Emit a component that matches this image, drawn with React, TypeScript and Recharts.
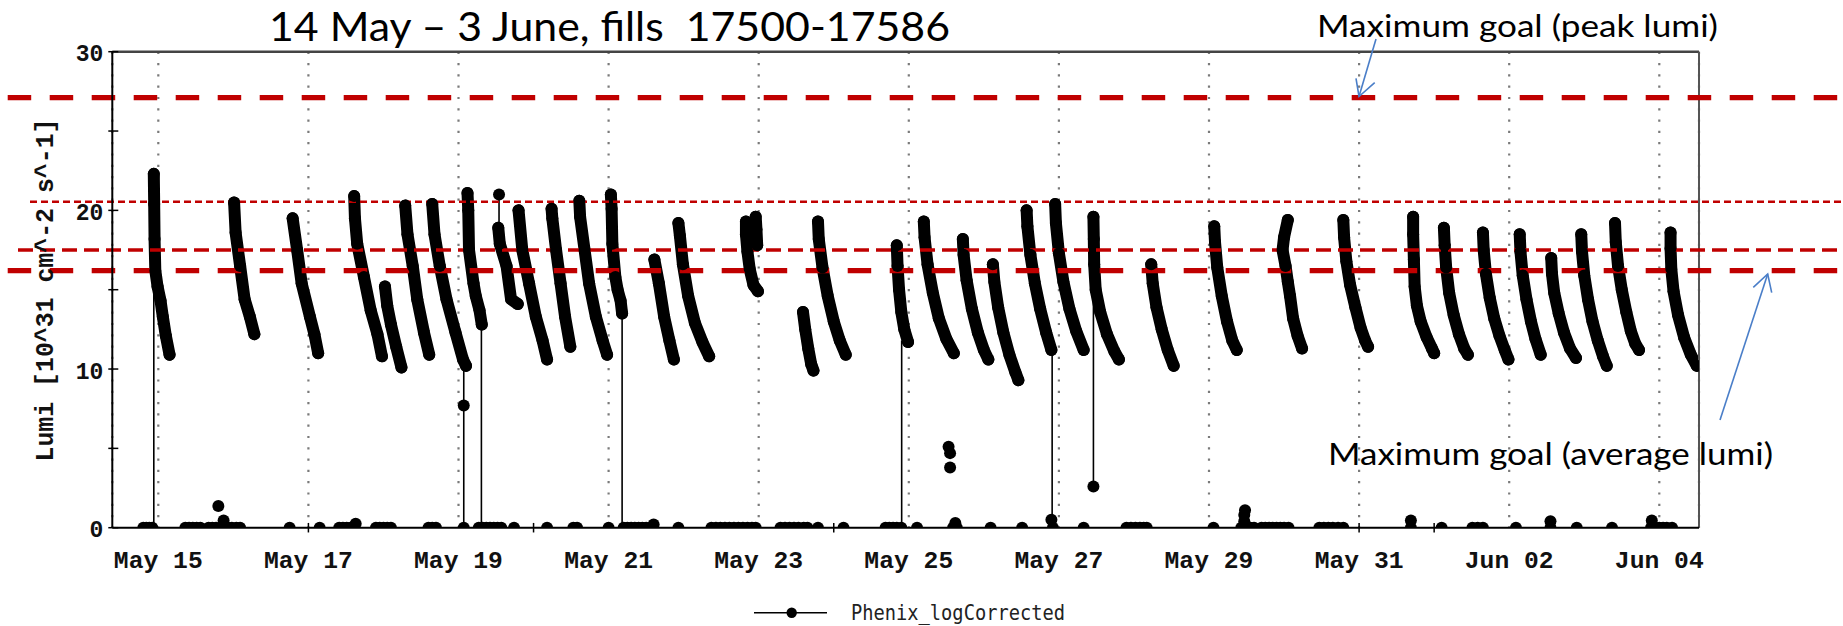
import { CartesianGrid, Line, LineChart, ReferenceLine, XAxis, YAxis } from "recharts";

type Pt = [number, number];

// x = day of May (Jun 04 = 35), y = lumi [10^31 cm^-2 s^-1]
const fillsMay14to18: Pt[][] = [
    [[14.94, 22.3], [14.945, 20.4], [14.95, 18.2], [14.96, 16.2], [14.99, 15.2], [15.03, 14.3], [15.06, 13.3], [15.1, 12.1], [15.15, 10.9]],
    [[16.01, 20.5], [16.03, 18.6], [16.09, 16.5], [16.15, 14.4], [16.22, 13.3], [16.28, 12.2]],
    [[16.79, 19.5], [16.85, 17.5], [16.91, 15.4], [17.02, 13.3], [17.08, 12.2], [17.13, 11.0]],
    [[17.61, 20.9], [17.62, 19.5], [17.65, 17.9], [17.74, 15.8], [17.83, 13.7], [17.92, 12.2], [17.98, 10.8]],
    [[18.02, 15.2], [18.05, 14.0], [18.1, 12.8], [18.17, 11.4], [18.24, 10.1]],
];

const fillsMay18to21: Pt[][] = [
    [[18.29, 20.3], [18.32, 18.5], [18.39, 16.5], [18.45, 14.4], [18.54, 12.3], [18.61, 10.9]],
    [[18.65, 20.4], [18.68, 18.5], [18.75, 16.5], [18.84, 14.4], [18.96, 12.3], [19.06, 10.6], [19.1, 10.2]],
    [[19.12, 21.1], [19.13, 20.0], [19.14, 17.5], [19.2, 15.4], [19.23, 14.6], [19.28, 13.7], [19.31, 12.8]],
    [[19.53, 18.9], [19.55, 17.9], [19.64, 16.5], [19.7, 14.4], [19.79, 14.1]],
    [[19.8, 20.0], [19.85, 17.5], [19.94, 15.4], [20.03, 13.3], [20.12, 11.8], [20.18, 10.6]],
    [[20.24, 20.1], [20.25, 19.5], [20.3, 17.5], [20.36, 15.4], [20.42, 13.3], [20.49, 11.4]],
    [[20.61, 20.6], [20.62, 19.6], [20.68, 17.5], [20.74, 15.4], [20.83, 13.3], [20.92, 11.8], [20.98, 10.9]],
    [[21.03, 21.0], [21.04, 20.1], [21.05, 17.9], [21.09, 15.8], [21.12, 15.0], [21.16, 14.3], [21.18, 13.5]],
];

const fillsMay21to25: Pt[][] = [
    [[21.61, 16.9], [21.67, 15.4], [21.74, 13.3], [21.81, 11.8], [21.87, 10.6]],
    [[21.93, 19.2], [21.95, 18.4], [21.99, 16.6], [22.06, 14.6], [22.15, 12.9], [22.25, 11.7], [22.34, 10.8]],
    [[22.83, 19.3], [22.83, 18.5], [22.85, 17.4], [22.88, 16.3], [22.93, 15.3], [22.99, 14.9]],
    [[22.96, 19.6], [22.97, 18.8], [22.98, 17.8]],
    [[23.59, 13.6], [23.62, 12.5], [23.66, 11.3], [23.7, 10.3], [23.73, 9.9]],
    [[23.79, 19.3], [23.8, 18.2], [23.85, 16.4], [23.92, 14.6], [24.0, 13.0], [24.08, 11.8], [24.16, 10.9]],
    [[24.84, 17.8], [24.85, 16.5], [24.87, 15.0], [24.9, 13.6], [24.94, 12.5], [24.99, 11.7]],
];

const fillsMay25to29: Pt[][] = [
    [[25.2, 19.3], [25.21, 18.3], [25.25, 16.6], [25.32, 14.8], [25.4, 13.2], [25.5, 11.9], [25.6, 11.0]],
    [[25.72, 18.2], [25.73, 17.2], [25.77, 15.6], [25.84, 13.8], [25.92, 12.3], [26.0, 11.2], [26.06, 10.6]],
    [[26.12, 16.6], [26.14, 15.5], [26.19, 13.9], [26.26, 12.3], [26.34, 10.9], [26.42, 9.8], [26.46, 9.3]],
    [[26.57, 20.0], [26.58, 19.0], [26.62, 17.2], [26.68, 15.4], [26.75, 13.8], [26.83, 12.3], [26.9, 11.2]],
    [[26.95, 20.4], [26.96, 19.2], [27.0, 17.3], [27.06, 15.5], [27.14, 13.8], [27.23, 12.4], [27.33, 11.2]],
    [[27.46, 19.6], [27.465, 18.2], [27.47, 16.6], [27.49, 15.0], [27.55, 13.6], [27.64, 12.2], [27.74, 11.1], [27.8, 10.6]],
    [[28.23, 16.6], [28.25, 15.4], [28.3, 13.9], [28.37, 12.5], [28.45, 11.2], [28.53, 10.2]],
];

const fillsMay29toJun04: Pt[][] = [
    [[29.07, 19.0], [29.08, 18.0], [29.11, 16.4], [29.17, 14.6], [29.24, 13.0], [29.31, 11.8], [29.37, 11.2]],
    [[30.05, 19.4], [30.0, 18.3], [29.98, 17.5], [30.02, 16.5], [30.05, 15.5], [30.08, 14.6], [30.12, 13.2], [30.18, 12.1], [30.24, 11.3]],
    [[30.79, 19.4], [30.8, 18.3], [30.83, 16.8], [30.88, 15.3], [30.95, 13.9], [31.02, 12.6], [31.08, 11.8], [31.12, 11.4]],
    [[31.72, 19.6], [31.72, 18.5], [31.73, 16.9], [31.74, 15.2], [31.77, 14.0], [31.82, 13.0], [31.9, 12.0], [31.97, 11.3], [32.0, 11.0]],
    [[32.13, 18.9], [32.14, 17.8], [32.16, 16.4], [32.2, 14.8], [32.26, 13.4], [32.33, 12.2], [32.4, 11.3], [32.45, 10.9]],
    [[32.65, 18.6], [32.66, 17.5], [32.69, 16.0], [32.74, 14.5], [32.8, 13.2], [32.87, 12.1], [32.94, 11.2], [32.99, 10.6]],
    [[33.14, 18.5], [33.15, 17.4], [33.18, 15.9], [33.23, 14.4], [33.29, 13.0], [33.35, 11.9], [33.42, 10.9]],
    [[33.56, 17.0], [33.57, 16.0], [33.6, 14.8], [33.66, 13.5], [33.73, 12.3], [33.81, 11.3], [33.89, 10.7]],
    [[33.96, 18.5], [33.97, 17.4], [34.0, 15.9], [34.05, 14.4], [34.11, 13.0], [34.18, 11.8], [34.25, 10.8], [34.3, 10.2]],
    [[34.41, 19.2], [34.42, 18.0], [34.45, 16.5], [34.5, 15.0], [34.56, 13.6], [34.62, 12.4], [34.68, 11.6], [34.73, 11.2]],
    [[35.15, 18.6], [35.15, 17.6], [35.16, 16.3], [35.19, 14.9], [35.25, 13.4], [35.33, 12.0], [35.42, 10.9], [35.5, 10.2]],
];

// readings sitting on zero between fills
const zeroDays: number[] = [
    14.8, 14.84, 14.88, 14.92, 15.36, 15.41, 15.46, 15.51, 15.56, 15.67, 15.72, 15.77, 15.88, 15.93, 15.98, 16.04, 16.09,
    16.75, 17.15, 17.41, 17.46, 17.51, 17.56, 17.61, 17.9, 17.95, 18.0, 18.05, 18.1, 18.6, 18.65, 18.7, 19.07,
    19.27, 19.32, 19.37, 19.42, 19.47, 19.52, 19.57, 19.74, 20.18, 20.53, 20.58, 21.0, 21.2, 21.25, 21.3, 21.35,
    21.4, 21.45, 21.5, 21.56, 21.93, 22.37, 22.43, 22.49, 22.55, 22.61, 22.67, 22.73, 22.79, 22.85, 22.91, 22.96,
    23.29, 23.35, 23.41, 23.47, 23.53, 23.6, 23.65, 23.79, 24.13, 24.69, 24.74, 24.79, 24.84, 24.9, 25.11, 25.59,
    25.64, 26.09, 26.51, 26.92, 27.33, 27.9, 27.96, 28.02, 28.08, 28.13, 28.17, 29.06, 29.43, 29.49, 29.55, 29.6,
    29.7, 29.75, 29.8, 29.85, 29.9, 29.95, 30.0, 30.06, 30.47, 30.53, 30.59, 30.65, 30.72, 30.79, 31.69, 32.1,
    32.51, 32.58, 32.65, 33.09, 33.55, 33.9, 34.37, 34.89, 34.95, 35.0, 35.05, 35.1, 35.17,
];

// isolated low / stray readings
const strayPoints: Pt[] = [
    [15.8, 1.37], [15.87, 0.45], [17.63, 0.25], [19.07, 7.7], [19.54, 21.0], [21.6, 0.2], [25.53, 5.1], [25.55, 4.7],
    [25.55, 3.8], [25.62, 0.3], [26.9, 0.5], [27.46, 2.6], [29.47, 0.4], [29.47, 0.8], [29.48, 1.1], [31.69, 0.45],
    [33.55, 0.4], [34.9, 0.45],
];

// thin joins between consecutive readings
const dropLines: Pt[][] = [
    [[14.94, 0], [14.94, 22.3]],
    [[19.07, 0], [19.07, 10.4]],
    [[19.305, 0], [19.305, 12.8]],
    [[19.54, 18.9], [19.54, 21.0]],
    [[21.18, 0], [21.18, 13.5]],
    [[24.905, 0], [24.905, 11.8]],
    [[26.91, 0], [26.91, 11.2]],
    [[27.46, 2.6], [27.46, 15.5]],
];

const goalLevels = [27.1, 20.55, 17.5, 16.2];
const dateTicks = [15, 17, 19, 21, 23, 25, 27, 29, 31, 33, 35];
const dateLabels = ["May 15", "May 17", "May 19", "May 21", "May 23", "May 25", "May 27", "May 29", "May 31", "Jun 02", "Jun 04"];
const weekMarks = [17, 20, 24, 31, 32];
const lumiTicks = [0, 5, 10, 15, 20, 25, 30];

const W = 1843;
const H = 626;
const X_MIN = 14.387;
const X_MAX = 35.529;
const RED = "#c00000";
const BLUE = "#4a7ec8";

const goalStyles = [
    { start: 7.7, width: 5.3, dash: "23.5 18.5" },
    { start: 30, width: 2.5, dash: "7 4" },
    { start: 18, width: 3.5, dash: "15 7" },
    { start: 7.7, width: 5.3, dash: "23.5 18.5" },
];

const allFills = [...fillsMay14to18, ...fillsMay18to21, ...fillsMay21to25, ...fillsMay25to29, ...fillsMay29toJun04];
const toRows = (pts: Pt[]) => pts.map(([x, y]) => ({ x, y }));

function DateTick(props: any) {
    const { x, y, payload } = props;
    const i = dateTicks.indexOf(payload.value);
    return (
        <text x={x} y={y + 40.6} textAnchor="middle" fontFamily="Liberation Mono" fontWeight="bold" fontSize={24.7} fill="#111">
            {dateLabels[i]}
        </text>
    );
}

function LumiTick(props: any) {
    const { x, y, payload } = props;
    const major = payload.value % 10 === 0;
    return (
        <g>
            <line x1={x - 4} x2={x + 6} y1={y} y2={y} stroke="#000" strokeWidth={1.5} />
            {major && (
                <text x={x - 9} y={y + 9.5} textAnchor="end" fontFamily="Liberation Mono" fontWeight="bold" fontSize={23} fill="#111">
                    {payload.value}
                </text>
            )}
        </g>
    );
}

export default function App() {
    return (
        <div style={{ position: "absolute", left: 0, top: 0, width: W, height: H, background: "#fff", overflow: "hidden" }}>
            <LineChart width={W} height={H} margin={{ top: 51.7, right: 144, bottom: 58.3, left: 40 }}>
                <CartesianGrid horizontal={false} stroke="#7a7a7a" strokeWidth={2.2} strokeDasharray="2.2 9.1" />
                <XAxis
                    type="number"
                    dataKey="x"
                    domain={[X_MIN, X_MAX]}
                    allowDataOverflow
                    ticks={dateTicks}
                    interval={0}
                    height={40}
                    tickSize={0}
                    tickMargin={0}
                    tickLine={false}
                    axisLine={{ stroke: "#000", strokeWidth: 2 }}
                    tick={<DateTick />}
                />
                <YAxis
                    type="number"
                    domain={[0, 30]}
                    allowDataOverflow
                    ticks={lumiTicks}
                    interval={0}
                    width={72.3}
                    tickSize={0}
                    tickMargin={0}
                    tickLine={false}
                    axisLine={{ stroke: "#000", strokeWidth: 2 }}
                    tick={<LumiTick />}
                />
                {allFills.map((f, i) => (
                    <Line
                        key={`fill-${i}`}
                        data={toRows(f)}
                        dataKey="y"
                        type="linear"
                        stroke="#000"
                        strokeWidth={12}
                        strokeLinecap="round"
                        strokeLinejoin="round"
                        dot={{ r: 6, fill: "#000", stroke: "none" }}
                        activeDot={false}
                        isAnimationActive={false}
                    />
                ))}
                {dropLines.map((d, i) => (
                    <Line
                        key={`drop-${i}`}
                        data={toRows(d)}
                        dataKey="y"
                        type="linear"
                        stroke="#000"
                        strokeWidth={1.6}
                        dot={false}
                        activeDot={false}
                        isAnimationActive={false}
                    />
                ))}
                <Line
                    data={zeroDays.map((x) => ({ x, y: 0 }))}
                    dataKey="y"
                    stroke="none"
                    dot={{ r: 6, fill: "#000", stroke: "none" }}
                    activeDot={false}
                    isAnimationActive={false}
                />
                <Line
                    data={toRows(strayPoints)}
                    dataKey="y"
                    stroke="none"
                    dot={{ r: 6, fill: "#000", stroke: "none" }}
                    activeDot={false}
                    isAnimationActive={false}
                />
                <ReferenceLine y={30} stroke="#444" strokeWidth={2.6} />
                <ReferenceLine x={X_MAX} stroke="#555" strokeWidth={2} />
                {weekMarks.map((d) => (
                    <ReferenceLine
                        key={`wk-${d}`}
                        segment={[{ x: d, y: -0.3 }, { x: d, y: 0.3 }]}
                        ifOverflow="visible"
                        stroke="#000"
                        strokeWidth={1.5}
                    />
                ))}
                {goalLevels.map((g, i) => (
                    <ReferenceLine
                        key={`goal-${i}`}
                        y={g}
                        shape={(p: any) => (
                            <line
                                x1={goalStyles[i].start}
                                x2={W}
                                y1={p.y1}
                                y2={p.y2}
                                stroke={RED}
                                strokeWidth={goalStyles[i].width}
                                strokeDasharray={goalStyles[i].dash}
                            />
                        )}
                    />
                ))}
            </LineChart>
            <svg width={W} height={H} style={{ position: "absolute", left: 0, top: 0, pointerEvents: "none" }}>
                <text x={269} y={40.7} fontFamily="Lato" fontSize={40} textLength={681} lengthAdjust="spacingAndGlyphs" xmlSpace="preserve" style={{ whiteSpace: "pre" }}>
                    14 May – 3 June, fills  17500-17586
                </text>
                <text x={1317} y={37.3} fontFamily="Lato" fontSize={31} textLength={401} lengthAdjust="spacingAndGlyphs">
                    Maximum goal (peak lumi)
                </text>
                <text x={1328} y={465} fontFamily="Lato" fontSize={31} textLength={445} lengthAdjust="spacingAndGlyphs">
                    Maximum goal (average lumi)
                </text>
                <g stroke={BLUE} strokeWidth={1.6} fill="none">
                    <line x1={1376} y1={39} x2={1359} y2={96.5} />
                    <polyline points="1356,78.3 1359,96.5 1374.7,82.7" />
                    <line x1={1720} y1={420} x2={1767.7} y2={274} />
                    <polyline points="1753.3,287.3 1767.7,274 1771.7,292.7" />
                </g>
                <text
                    transform="translate(53 290) rotate(-90)"
                    textAnchor="middle"
                    fontFamily="Liberation Mono"
                    fontWeight="bold"
                    fontSize={25}
                    textLength={343}
                    lengthAdjust="spacingAndGlyphs"
                    fill="#111"
                >
                    Lumi [10^31 cm^-2 s^-1]
                </text>
                <line x1={754} x2={827} y1={612.7} y2={612.7} stroke="#000" strokeWidth={1.6} />
                <circle cx={791.7} cy={612.7} r={5.2} fill="#000" />
                <text x={851} y={620} fontFamily="DejaVu Sans Mono" fontSize={21} textLength={214} lengthAdjust="spacingAndGlyphs" fill="#222">
                    Phenix_logCorrected
                </text>
            </svg>
        </div>
    );
}
